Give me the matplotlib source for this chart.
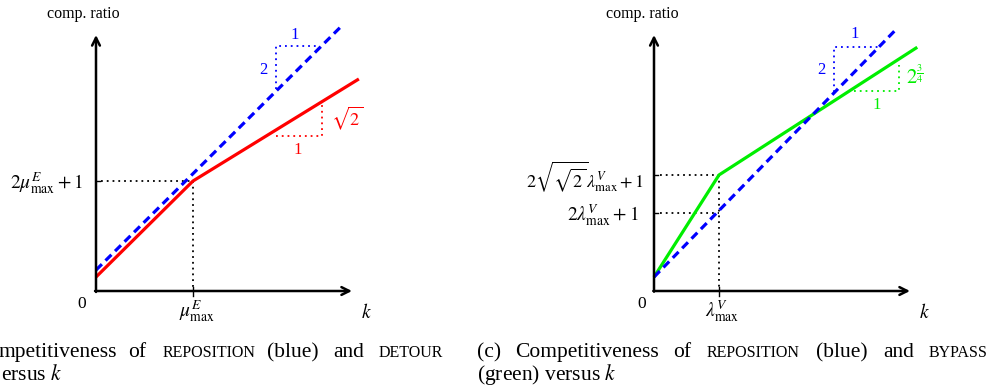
"""Competitiveness of REPOSITION vs DETOUR / BYPASS as functions of k."""

import matplotlib

matplotlib.use("Agg")
import matplotlib.pyplot as plt

plt.rcParams["font.family"] = ["Liberation Serif", "DejaVu Serif"]
plt.rcParams["mathtext.fontset"] = "stix"

W, H = 991, 391

# ---- left panel (b): REPOSITION vs DETOUR, x in units of mu_max ----
k_left = [0, 1, 2.71]
detour = [0.144, 1.134, 2.186]
k_repo_left = [0, 2.52]
repo_left = [0.216, 2.72]
mu_tick = 1.0
mu_tick_y = 1.134
repo_tri_left = [(1.856, 2.082), (1.856, 2.526), (2.289, 2.526)]
detour_tri = [(1.856, 1.598), (2.33, 1.598), (2.33, 1.938)]

# ---- right panel (c): REPOSITION vs BYPASS, x in units of lambda_max ----
k_right = [0, 1, 4.05]
bypass = [0.215, 1.785, 3.75]
k_repo_right = [0, 3.72]
repo_right = [0.215, 4.02]
lam_tick = 1.0
lam_tick_y = [1.785, 1.2]
repo_tri_right = [(2.77, 3.06), (2.77, 3.75), (3.45, 3.75)]
bypass_tri = [(3.08, 3.08), (3.77, 3.08), (3.77, 3.48)]

BLUE = "#0000ff"
RED = "#ff0000"
GREEN = "#00ee00"
DOT = (0, (1, 2.2))
DASH = (0, (2.6, 1.6))
MATH = 14


def px(x, y):
    return x / W, 1 - y / H


def draw_axes(ax, size):
    ax.set_xlim(0, size)
    ax.set_ylim(0, size)
    ax.axis("off")
    arrow = dict(arrowstyle="->", lw=1.8, color="black", shrinkA=0, shrinkB=0,
                 mutation_scale=14)
    ax.annotate("", xy=(size, 0), xytext=(-0.01, 0), arrowprops=arrow, annotation_clip=False)
    ax.annotate("", xy=(0, size), xytext=(0, -0.01), arrowprops=arrow, annotation_clip=False)


def draw_tri(ax, pts, color):
    xs, ys = zip(*pts)
    ax.plot(xs, ys, color=color, lw=1.3, linestyle=DOT, clip_on=False)


fig = plt.figure(figsize=(W / 100, H / 100), dpi=100)

# left panel
size_l = 256 / 97
ax1 = fig.add_axes([96 / W, 100 / H, 256 / W, 256 / H])
draw_axes(ax1, size_l)
ax1.plot([0.05, mu_tick], [mu_tick_y, mu_tick_y], color="black", lw=1.3, linestyle=DOT)
ax1.plot([mu_tick, mu_tick], [mu_tick_y, 0], color="black", lw=1.3, linestyle=DOT)
ax1.plot([-0.04, 0.04], [mu_tick_y, mu_tick_y], color="black", lw=1)
ax1.plot([mu_tick, mu_tick], [-0.05, 0.04], color="black", lw=1, clip_on=False)
ax1.plot(k_left, detour, color=RED, lw=2.3, clip_on=False, solid_capstyle="butt")
ax1.plot(k_repo_left, repo_left, color=BLUE, lw=2.3, linestyle=DASH, clip_on=False)
draw_tri(ax1, repo_tri_left, BLUE)
draw_tri(ax1, detour_tri, RED)
ax1.text(2.05, 2.64, "1", color=BLUE, fontsize=12, ha="center", va="center")
ax1.text(1.73, 2.28, "2", color=BLUE, fontsize=12, ha="center", va="center")
ax1.text(2.42, 1.78, r"$\sqrt{2}$", color=RED, fontsize=13, ha="left", va="center")
ax1.text(2.08, 1.45, "1", color=RED, fontsize=12, ha="center", va="center")

# right panel
size_r = 256 / 65
ax2 = fig.add_axes([654 / W, 100 / H, 256 / W, 256 / H])
draw_axes(ax2, size_r)
for ty in lam_tick_y:
    ax2.plot([0.09, lam_tick], [ty, ty], color="black", lw=1.3, linestyle=DOT)
    ax2.plot([-0.06, 0.06], [ty, ty], color="black", lw=1)
ax2.plot([lam_tick, lam_tick], [max(lam_tick_y), 0], color="black", lw=1.3, linestyle=DOT)
ax2.plot([lam_tick, lam_tick], [-0.07, 0.06], color="black", lw=1, clip_on=False)
ax2.plot(k_right, bypass, color=GREEN, lw=2.3, clip_on=False, solid_capstyle="butt")
ax2.plot(k_repo_right, repo_right, color=BLUE, lw=2.3, linestyle=DASH, clip_on=False)
draw_tri(ax2, repo_tri_right, BLUE)
draw_tri(ax2, bypass_tri, GREEN)
ax2.text(3.08, 3.95, "1", color=BLUE, fontsize=12, ha="center", va="center")
ax2.text(2.58, 3.4, "2", color=BLUE, fontsize=12, ha="center", va="center")
ax2.text(3.88, 3.3, r"$2^{\frac{3}{4}}$", color=GREEN, fontsize=15, ha="left", va="center")
ax2.text(3.42, 2.86, "1", color=GREEN, fontsize=12, ha="center", va="center")

# axis labels
lab = dict(fontsize=11.5, ha="center", va="center")
fig.text(*px(83, 14), "comp. ratio", **lab)
fig.text(*px(642, 14), "comp. ratio", **lab)
fig.text(*px(82, 304), "0", fontsize=12.5, ha="center", va="center")
fig.text(*px(642, 304), "0", fontsize=12.5, ha="center", va="center")
fig.text(*px(366, 312), "$k$", fontsize=MATH, ha="center", va="center")
fig.text(*px(924, 312), "$k$", fontsize=MATH, ha="center", va="center")
fig.text(*px(197, 311), r"$\mu_{\max}^{E}$", fontsize=MATH, ha="center", va="center")
fig.text(*px(722, 311), r"$\lambda_{\max}^{V}$", fontsize=MATH, ha="center", va="center")
fig.text(*px(83, 183), r"$2\mu_{\max}^{E}+1$", fontsize=MATH, ha="right", va="center")
fig.text(*px(644, 177), r"$2\sqrt{\sqrt{2}}\lambda_{\max}^{V}+1$", fontsize=13,
         ha="right", va="center")
fig.text(*px(639, 215), r"$2\lambda_{\max}^{V}+1$", fontsize=MATH, ha="right", va="center")

# justified captions (left one is cut by the crop): (word, x, small caps, anchor)
cap_left = [("mpetitiveness", 117, False, "right"), ("of", 128, False, "left"),
            ("REPOSITION", 163, True, "left"), ("(blue)", 267, False, "left"),
            ("and", 333, False, "left"), ("DETOUR", 443, True, "right")]
cap_right = [("(c)", 477, False, "left"), ("Competitiveness", 515, False, "left"),
             ("of", 673, False, "left"), ("REPOSITION", 707, True, "left"),
             ("(blue)", 816, False, "left"), ("and", 883, False, "left"),
             ("BYPASS", 987, True, "right")]
for word, x, sc, anchor in cap_left + cap_right:
    fig.text(*px(x, 357), word, fontsize=11.5 if sc else 15.5, ha=anchor, va="baseline")
fig.text(*px(1, 380), "ersus $k$", fontsize=15.5, ha="left", va="baseline")
fig.text(*px(477, 380), "(green) versus $k$", fontsize=15.5, ha="left", va="baseline")

fig.savefig("out.png", dpi=100)
